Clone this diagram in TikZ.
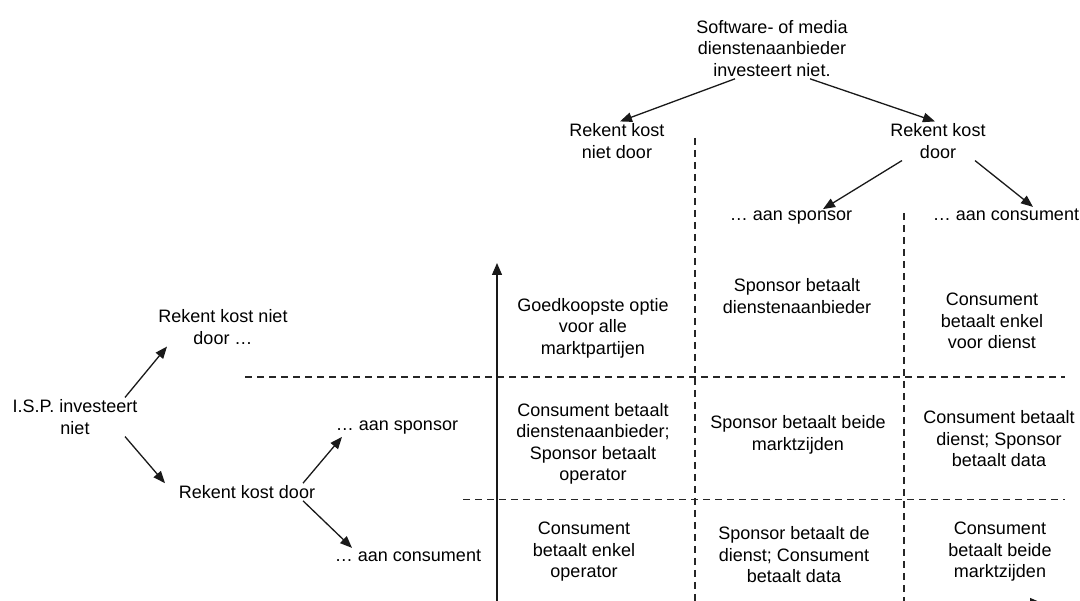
\documentclass[tikz,border=0pt]{standalone}
\usepackage{fontspec}
\setmainfont{Liberation Sans}
\usetikzlibrary{arrows.meta}
\begin{document}
\begin{tikzpicture}[x=1pt,y=-1pt,
  lbl/.style={align=center,inner sep=2pt,text=black,font=\fontsize{18}{21.5}\selectfont},
  arr/.style={-{Triangle[length=12pt,width=9.5pt]},line width=1.3pt,draw=black!90},
  gridline/.style={dash pattern=on 7pt off 5pt,line width=1.1pt,draw=black!85}]
\useasboundingbox (0,0) rectangle (1080,601);
\clip (0,0) rectangle (1080,601);

% grid lines
\draw[gridline] (695,138) -- (695,605);
\draw[gridline] (904,213) -- (904,605);
\draw[gridline] (245,377) -- (1065,377);
\draw[gridline] (463,499.5) -- (1065,499.5);

% axes
\coordinate (orig) at (497,603);
\coordinate (ytip) at (497,263);
\coordinate (xtip) at (1042,603);
\draw[arr,-{Triangle[length=12pt,width=10pt]}] (orig) -- (ytip);
\draw[arr,-{Triangle[length=12pt,width=10pt]}] (orig) -- (xtip);

% top tree
\node[lbl] (top) at (772,48.5) {Software- of media\\dienstenaanbieder\\investeert niet.};
\node[lbl] (rkn) at (617,141) {Rekent kost\\niet door};
\node[lbl] (rkd) at (938,141) {Rekent kost\\door};
\node[lbl] (as) at (791,218) {\dots\ aan sponsor};
\node[lbl] (ac) at (1006,215) {\dots\ aan consument};
\draw[arr] ([xshift=-37pt]top.south) -- ([xshift=3pt]rkn.north);
\draw[arr] ([xshift=38pt]top.south) -- ([xshift=-3pt]rkd.north);
\draw[arr] ([xshift=-36pt]rkd.south) -- ([xshift=32pt]as.north);
\draw[arr] ([xshift=37pt]rkd.south) -- ([xshift=27pt]ac.north);

% left tree
\node[lbl] (isp) at (75,417) {I.S.P. investeert\\niet};
\node[lbl] (rkn2) at (223,327) {Rekent kost niet\\door \dots};
\node[lbl] (rkd2) at (247,492) {Rekent kost door};
\node[lbl] (as2) at (397,428) {\dots\ aan sponsor};
\node[lbl] (ac2) at (408,556) {\dots\ aan consument};
\draw[arr] ([xshift=50pt]isp.north) -- ([xshift=-56pt]rkn2.south);
\draw[arr] ([xshift=50pt]isp.south) -- ([xshift=-82pt]rkd2.north);
\draw[arr] ([xshift=56pt]rkd2.north) -- ([xshift=-55pt]as2.south);
\draw[arr] ([xshift=56pt]rkd2.south) -- ([xshift=-56pt]ac2.north);

% cells
\node[lbl] (c11) at (593,328) {Goedkoopste optie\\voor alle\\marktpartijen};
\node[lbl] (c12) at (797,296) {Sponsor betaalt\\dienstenaanbieder};
\node[lbl] (c13) at (992,321) {Consument\\betaalt enkel\\voor dienst};
\node[lbl] (c21) at (593,444) {Consument betaalt\\dienstenaanbieder;\\Sponsor betaalt\\operator};
\node[lbl] (c22) at (798,435) {Sponsor betaalt beide\\marktzijden};
\node[lbl] (c23) at (999,439) {Consument betaalt\\dienst; Sponsor\\betaalt data};
\node[lbl] (c31) at (584,552) {Consument\\betaalt enkel\\operator};
\node[lbl] (c32) at (794,555) {Sponsor betaalt de\\dienst; Consument\\betaalt data};
\node[lbl] (c33) at (1000,552) {Consument\\betaalt beide\\marktzijden};
\end{tikzpicture}
\end{document}
